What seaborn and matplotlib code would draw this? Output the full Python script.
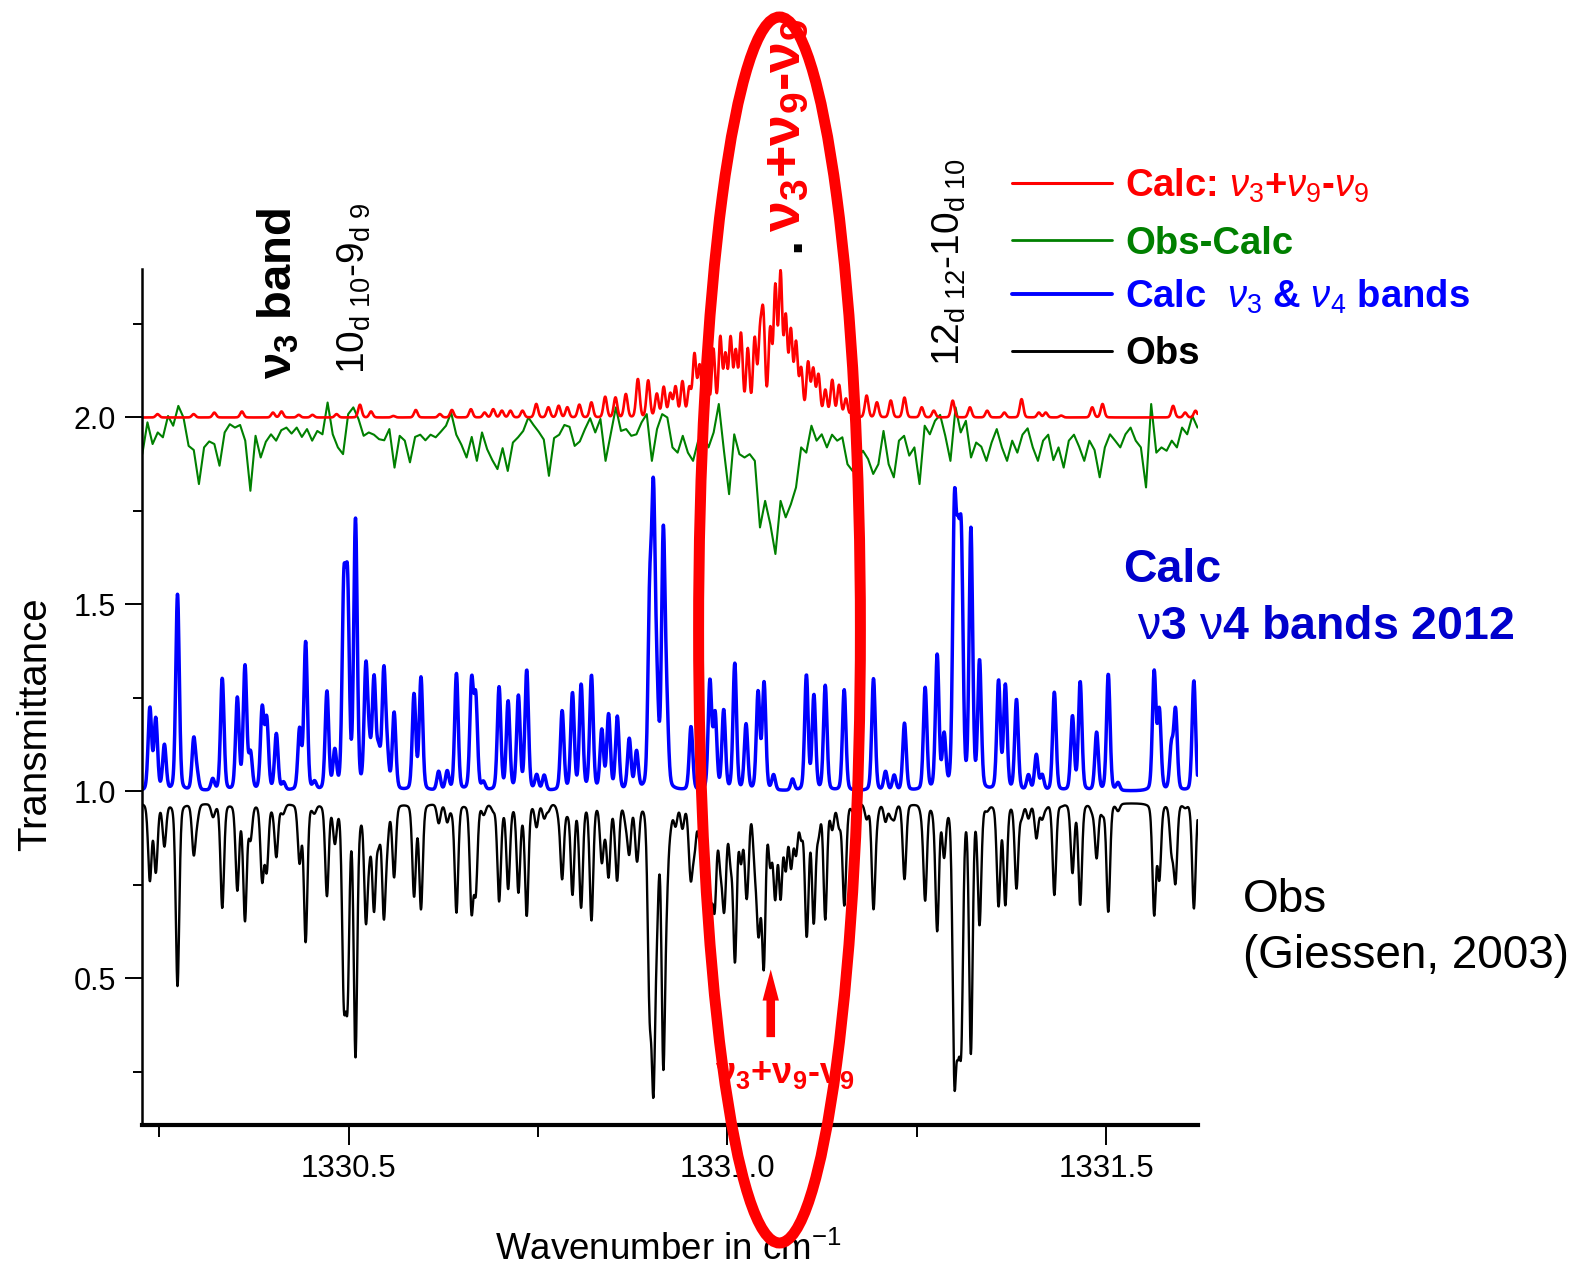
import numpy as np
import pandas as pd
import seaborn as sns
import matplotlib
matplotlib.use("Agg")
import matplotlib.pyplot as plt
from matplotlib.patches import Ellipse
from matplotlib.lines import Line2D
from matplotlib.transforms import Bbox, TransformedBbox

# ---- data ----
x_range = (1330.2275, 1331.6208)
y_range = (0.107, 2.396)

# Calc v3 & v4 bands (blue): line centre [cm-1], peak height above the 1.0 offset
v34_pos = [1330.2375, 1330.2453, 1330.2567, 1330.2740, 1330.2954, 1330.2998, 1330.3205,
           1330.3331, 1330.3530, 1330.3631, 1330.3704, 1330.3858, 1330.3918, 1330.4045,
           1330.4140, 1330.4352, 1330.4432, 1330.4550, 1330.4713, 1330.4817, 1330.4936,
           1330.4985, 1330.5090, 1330.5227, 1330.5271, 1330.5335, 1330.5395, 1330.5464,
           1330.5508, 1330.5600, 1330.5863, 1330.5955, 1330.6188, 1330.6301, 1330.6423,
           1330.6623, 1330.6678, 1330.6779, 1330.6986, 1330.7105, 1330.7241, 1330.7351,
           1330.7483, 1330.7582, 1330.7819, 1330.7955, 1330.8070, 1330.8206, 1330.8342,
           1330.8432, 1330.8547, 1330.8705, 1330.8801, 1330.8975, 1330.9024, 1330.9070,
           1330.9154, 1330.9200, 1330.9520, 1330.9770, 1330.9838, 1330.9952, 1331.0098,
           1331.0247, 1331.0406, 1331.0485, 1331.0611, 1331.0861, 1331.1044, 1331.1143,
           1331.1293, 1331.1543, 1331.1930, 1331.2089, 1331.2203, 1331.2339, 1331.2612,
           1331.2771, 1331.2862, 1331.2998, 1331.3045, 1331.3090, 1331.3216, 1331.3330,
           1331.3581, 1331.3671, 1331.3818, 1331.3976, 1331.4080, 1331.4157, 1331.4318,
           1331.4557, 1331.4659, 1331.4876, 1331.5030, 1331.5159, 1331.5636, 1331.5704,
           1331.5863, 1331.5918, 1331.6160]
v34_amp = [0.220, 0.190, 0.120, 0.525, 0.135, 0.040, 0.030,
           0.300, 0.245, 0.330, 0.095, 0.215, 0.185, 0.150,
           0.020, 0.160, 0.395, 0.020, 0.262, 0.100, 0.515,
           0.515, 0.715, 0.315, 0.095, 0.290, 0.095, 0.308,
           0.085, 0.205, 0.255, 0.300, 0.050, 0.050, 0.312,
           0.285, 0.240, 0.020, 0.275, 0.236, 0.250, 0.320,
           0.040, 0.040, 0.212, 0.258, 0.280, 0.305, 0.158,
           0.200, 0.195, 0.135, 0.100, 0.480, 0.730, 0.220,
           0.665, 0.185, 0.170, 0.290, 0.200, 0.212, 0.338,
           0.175, 0.260, 0.285, 0.040, 0.030, 0.307, 0.252,
           0.280, 0.270, 0.300, 0.050, 0.040, 0.180, 0.273,
           0.358, 0.140, 0.700, 0.520, 0.600, 0.690, 0.340,
           0.290, 0.278, 0.242, 0.040, 0.095, 0.040, 0.263,
           0.197, 0.290, 0.155, 0.312, 0.020, 0.315, 0.210,
           0.115, 0.212, 0.295]

# Calc v3+v9-v9 hot band (red): line centre, peak height above the 2.0 offset
hot_pos = [1330.2476, 1330.2953, 1330.3226, 1330.3590, 1330.4000, 1330.4113, 1330.4340,
           1330.4522, 1330.4840, 1330.5149, 1330.5295, 1330.5590, 1330.5886, 1330.6204,
           1330.6363, 1330.6614, 1330.6795, 1330.6909, 1330.7023, 1330.7136, 1330.7295,
           1330.7477, 1330.7637, 1330.7773, 1330.7887, 1330.8046, 1330.8205, 1330.8387,
           1330.8523, 1330.8660, 1330.8819, 1330.8955, 1330.9069, 1330.9160, 1330.9247,
           1330.9316, 1330.9407, 1330.9498, 1330.9566, 1330.9634, 1330.9725, 1330.9816,
           1330.9907, 1330.9975, 1331.0043, 1331.0111, 1331.0180, 1331.0270, 1331.0361,
           1331.0430, 1331.0475, 1331.0566, 1331.0634, 1331.0703, 1331.0771, 1331.0839,
           1331.0907, 1331.0975, 1331.1066, 1331.1134, 1331.1203, 1331.1294, 1331.1385,
           1331.1475, 1331.1566, 1331.1657, 1331.1839, 1331.1975, 1331.2158, 1331.2339,
           1331.2567, 1331.2726, 1331.2976, 1331.3203, 1331.3431, 1331.3658, 1331.3885,
           1331.4113, 1331.4204, 1331.4408, 1331.4818, 1331.4954, 1331.5886, 1331.6045,
           1331.6182]
hot_amp = [0.009, 0.009, 0.013, 0.016, 0.013, 0.016, 0.007,
           0.007, 0.009, 0.034, 0.016, 0.004, 0.020, 0.009,
           0.020, 0.022, 0.013, 0.022, 0.018, 0.018, 0.018,
           0.036, 0.027, 0.031, 0.027, 0.034, 0.040, 0.055,
           0.053, 0.062, 0.102, 0.098, 0.062, 0.080, 0.062,
           0.080, 0.094, 0.076, 0.165, 0.134, 0.187, 0.178,
           0.209, 0.160, 0.205, 0.169, 0.218, 0.178, 0.205,
           0.196, 0.254, 0.227, 0.339, 0.374, 0.258, 0.223,
           0.192, 0.125, 0.143, 0.125, 0.111, 0.071, 0.098,
           0.085, 0.049, 0.027, 0.058, 0.040, 0.045, 0.053,
           0.027, 0.018, 0.045, 0.027, 0.018, 0.013, 0.049,
           0.013, 0.013, 0.005, 0.027, 0.036, 0.031, 0.013,
           0.018]

# Obs-Calc (green), sampled evenly across the x range
resid = [1.902, 1.987, 1.929, 1.960, 1.947, 2.004, 1.978, 2.031, 2.000, 1.924,
         1.913, 1.822, 1.920, 1.936, 1.929, 1.871, 1.960, 1.982, 1.973, 1.980,
         1.938, 1.804, 1.951, 1.893, 1.935, 1.955, 1.938, 1.966, 1.973, 1.957,
         1.973, 1.948, 1.969, 1.938, 1.964, 1.955, 2.040, 1.955, 1.920, 1.902,
         2.009, 2.027, 1.996, 1.951, 1.960, 1.954, 1.942, 1.939, 1.969, 1.866,
         1.951, 1.938, 1.880, 1.948, 1.954, 1.939, 1.954, 1.947, 1.962, 1.978,
         2.013, 1.954, 1.927, 1.893, 1.948, 1.884, 1.960, 1.915, 1.886, 1.862,
         1.918, 1.857, 1.933, 1.947, 1.964, 2.000, 1.980, 1.962, 1.941, 1.844,
         1.945, 1.954, 1.980, 1.975, 1.924, 1.936, 1.969, 1.998, 1.960, 1.996,
         1.884, 1.955, 2.027, 1.964, 1.969, 1.951, 1.955, 1.987, 2.009, 1.884,
         1.969, 2.009, 2.000,
         1.920, 1.906, 1.951, 1.906, 1.884, 1.938, 1.955, 1.920, 1.960, 2.036,
         1.911, 1.795, 1.955, 1.902, 1.893, 1.902, 1.884, 1.706, 1.777, 1.715,
         1.635, 1.777, 1.733, 1.768, 1.813, 1.920, 1.906, 1.978, 1.938, 1.955,
         1.920, 1.954, 1.938, 1.947, 1.875, 1.857, 1.893, 1.911, 1.889, 1.849,
         1.875, 1.964, 1.875, 1.840, 1.938, 1.951, 1.898, 1.920, 1.822, 1.978,
         1.955, 1.991, 2.007, 1.951, 1.884, 2.027, 1.960, 1.991, 1.893, 1.933,
         1.922, 1.884, 1.933, 1.969, 1.920, 1.884, 1.938, 1.906, 1.954, 1.971,
         1.920, 1.884, 1.938, 1.954, 1.886, 1.920, 1.866, 1.938, 1.954, 1.922,
         1.884, 1.938, 1.913, 1.840, 1.920, 1.955, 1.938, 1.920, 1.955, 1.973,
         1.938, 1.920, 1.813, 2.036, 1.906, 1.920, 1.911, 1.938, 1.920, 1.973,
         1.955, 2.004, 1.973]

x_major = [1330.5, 1331.0, 1331.5]
x_minor = [1330.25, 1330.75, 1331.25]
y_major = [0.5, 1.0, 1.5, 2.0]
y_minor = [0.25, 0.75, 1.25, 1.75, 2.25]

# ---- build the traces ----
wn = np.linspace(x_range[0], x_range[1], 3000)


def band(pos, amp, sigma=0.0023, gamma=0.003, frac=0.18):
    # pseudo-Voigt line shape, peak value = amp
    d = wn[None, :] - np.asarray(pos)[:, None]
    shape = (1 - frac) * np.exp(-0.5 * (d / sigma) ** 2) + frac / (1 + (d / gamma) ** 2)
    return (np.asarray(amp)[:, None] * shape).sum(axis=0)


main = band(v34_pos, v34_amp)
hot = band(hot_pos, hot_amp, frac=0.1)
spec = pd.DataFrame({
    "wn": wn,
    "obs": 0.97 - 0.93 * main - 0.65 * hot,
    "calc34": 1.0 + main,
    "calchot": 2.0 + hot,
})
res = pd.DataFrame({"wn": np.linspace(x_range[0], x_range[1], len(resid)), "resid": resid})

# ---- figure ----
sns.set_style("ticks", {"axes.edgecolor": "black", "text.color": "black",
                        "xtick.color": "black", "ytick.color": "black",
                        "axes.labelcolor": "black"})
plt.rcParams["font.family"] = ["Liberation Sans", "DejaVu Sans"]
plt.rcParams["mathtext.fontset"] = "custom"
plt.rcParams["mathtext.rm"] = "Liberation Sans"
plt.rcParams["mathtext.it"] = "Liberation Sans:italic"
plt.rcParams["mathtext.bf"] = "Liberation Sans:bold"

W, H = 1594, 1275
fig = plt.figure(figsize=(W / 100, H / 100), dpi=100)
ax = fig.add_axes([142.3 / W, 1 - 1125.4 / H, (1197.5 - 142.3) / W, (1125.4 - 269.4) / H])


def P(x, y):
    return (x / W, 1 - y / H)


sns.lineplot(data=spec, x="wn", y="obs", ax=ax, color="black", lw=1.7, estimator=None, sort=False)
sns.lineplot(data=spec, x="wn", y="calc34", ax=ax, color="#0000FF", lw=2.5, estimator=None, sort=False)
sns.lineplot(data=res, x="wn", y="resid", ax=ax, color="#008000", lw=1.5, estimator=None, sort=False)
sns.lineplot(data=spec, x="wn", y="calchot", ax=ax, color="#FF0000", lw=1.9, estimator=None, sort=False)

ax.set_xlim(*x_range)
ax.set_ylim(*y_range)
ax.set_xlabel("")
ax.set_ylabel("")
ax.spines[["top", "right"]].set_visible(False)
ax.spines["left"].set_linewidth(1.8)
ax.spines["bottom"].set_linewidth(3)
ax.set_xticks(x_major)
ax.set_xticklabels([f"{v:.1f}" for v in x_major])
ax.set_xticks(x_minor, minor=True)
ax.set_yticks(y_major)
ax.set_yticklabels([f"{v:.1f}" for v in y_major])
ax.set_yticks(y_minor, minor=True)
ax.tick_params(axis="x", which="major", length=14.4, width=1.4, labelsize=22.5, pad=6)
ax.tick_params(axis="x", which="minor", length=8.4, width=1.4)
ax.tick_params(axis="y", which="major", length=12, width=1.4, labelsize=22, pad=7)
ax.tick_params(axis="y", which="minor", length=6.7, width=1.4)

# axis titles
fig.text(*P(45.7, 724), "Transmittance", rotation=90, rotation_mode="anchor",
         ha="center", va="baseline", fontsize=29)
fig.text(*P(495, 1260), "Wavenumber in cm$^{-1}$", ha="left", va="baseline", fontsize=26.5)

# rotated line assignments
fig.text(*P(291.7, 293), r"$\mathbf{\nu_3}$ band", rotation=90, rotation_mode="anchor",
         ha="center", va="baseline", fontsize=34, fontweight="bold")
fig.text(*P(365, 288), r"$\mathrm{10_{d\ 10}}$-$\mathrm{9_{d\ 9}}$", rotation=90,
         rotation_mode="anchor", ha="center", va="baseline", fontsize=28)
fig.text(*P(960, 262), r"$\mathrm{12_{d\ 12}}$-$\mathrm{10_{d\ 10}}$", rotation=90,
         rotation_mode="anchor", ha="center", va="baseline", fontsize=28)
fig.text(*P(800, 125), r"$\mathbf{\nu_3}$+$\mathbf{\nu_9}$-$\mathbf{\nu_9}$", rotation=90,
         rotation_mode="anchor", ha="center", va="baseline", fontsize=40,
         fontweight="bold", color="#FF0000")
fig.text(*P(799, 244), ".", rotation=90, rotation_mode="anchor", ha="center",
         va="baseline", fontsize=40, fontweight="bold", color="black")

# hot band marker under the spectrum
ax.annotate("", xy=(1331.0573, 0.524), xytext=(1331.0573, 0.343),
            arrowprops=dict(arrowstyle="simple,head_length=1.12,head_width=0.59,tail_width=0.31",
                            fc="#FF0000", ec="none", mutation_scale=20, shrinkA=0, shrinkB=0))
fig.text(*P(785, 1083), r"$\mathbf{\nu_3}$+$\mathbf{\nu_9}$-$\mathbf{\nu_9}$", ha="center",
         va="baseline", fontsize=26, fontweight="bold", color="#FF0000")

# legend, drawn by hand next to the plot
legend_rows = [
    ("#FF0000", 2.2, 183.3, r"Calc: $\nu_3$+$\nu_9$-$\nu_9$"),
    ("#008000", 2.0, 240.0, "Obs-Calc"),
    ("#0000FF", 2.8, 294.0, r"Calc  $\nu_3$ & $\nu_4$ bands"),
    ("black", 2.1, 350.7, "Obs"),
]
clip = TransformedBbox(Bbox.from_extents(0, 0, 1469 / W, 1), fig.transFigure)
for col, lw, yy, lab in legend_rows:
    fig.add_artist(Line2D([1011.7 / W, 1111.7 / W], [1 - yy / H] * 2, color=col, lw=lw))
    t = fig.text(*P(1125, yy + 13.7), lab, ha="left", va="baseline", fontsize=27.5,
                 fontweight="bold", color=col)
    t.set_clip_box(clip)
    t.set_clip_on(True)

fig.text(*P(1123.3, 581.7), "Calc", ha="left", va="baseline", fontsize=33.5,
         fontweight="bold", color="#0000CC")
fig.text(*P(1136.7, 639.3), r"$\mathrm{\nu}$3 $\mathrm{\nu}$4 bands 2012", ha="left",
         va="baseline", fontsize=33.5, fontweight="bold", color="#0000CC")
fig.text(*P(1242.7, 911.7), "Obs", ha="left", va="baseline", fontsize=33)
fig.text(*P(1242.7, 968.3), "(Giessen, 2003)", ha="left", va="baseline", fontsize=33)

# big red ellipse around the hot band region
fig.add_artist(Ellipse(P(779.5, 630), 161.8 / W, 1226 / H, transform=fig.transFigure,
                       fill=False, ec="#FF0000", lw=7.9, zorder=20))

fig.savefig("out.png", dpi=100)
